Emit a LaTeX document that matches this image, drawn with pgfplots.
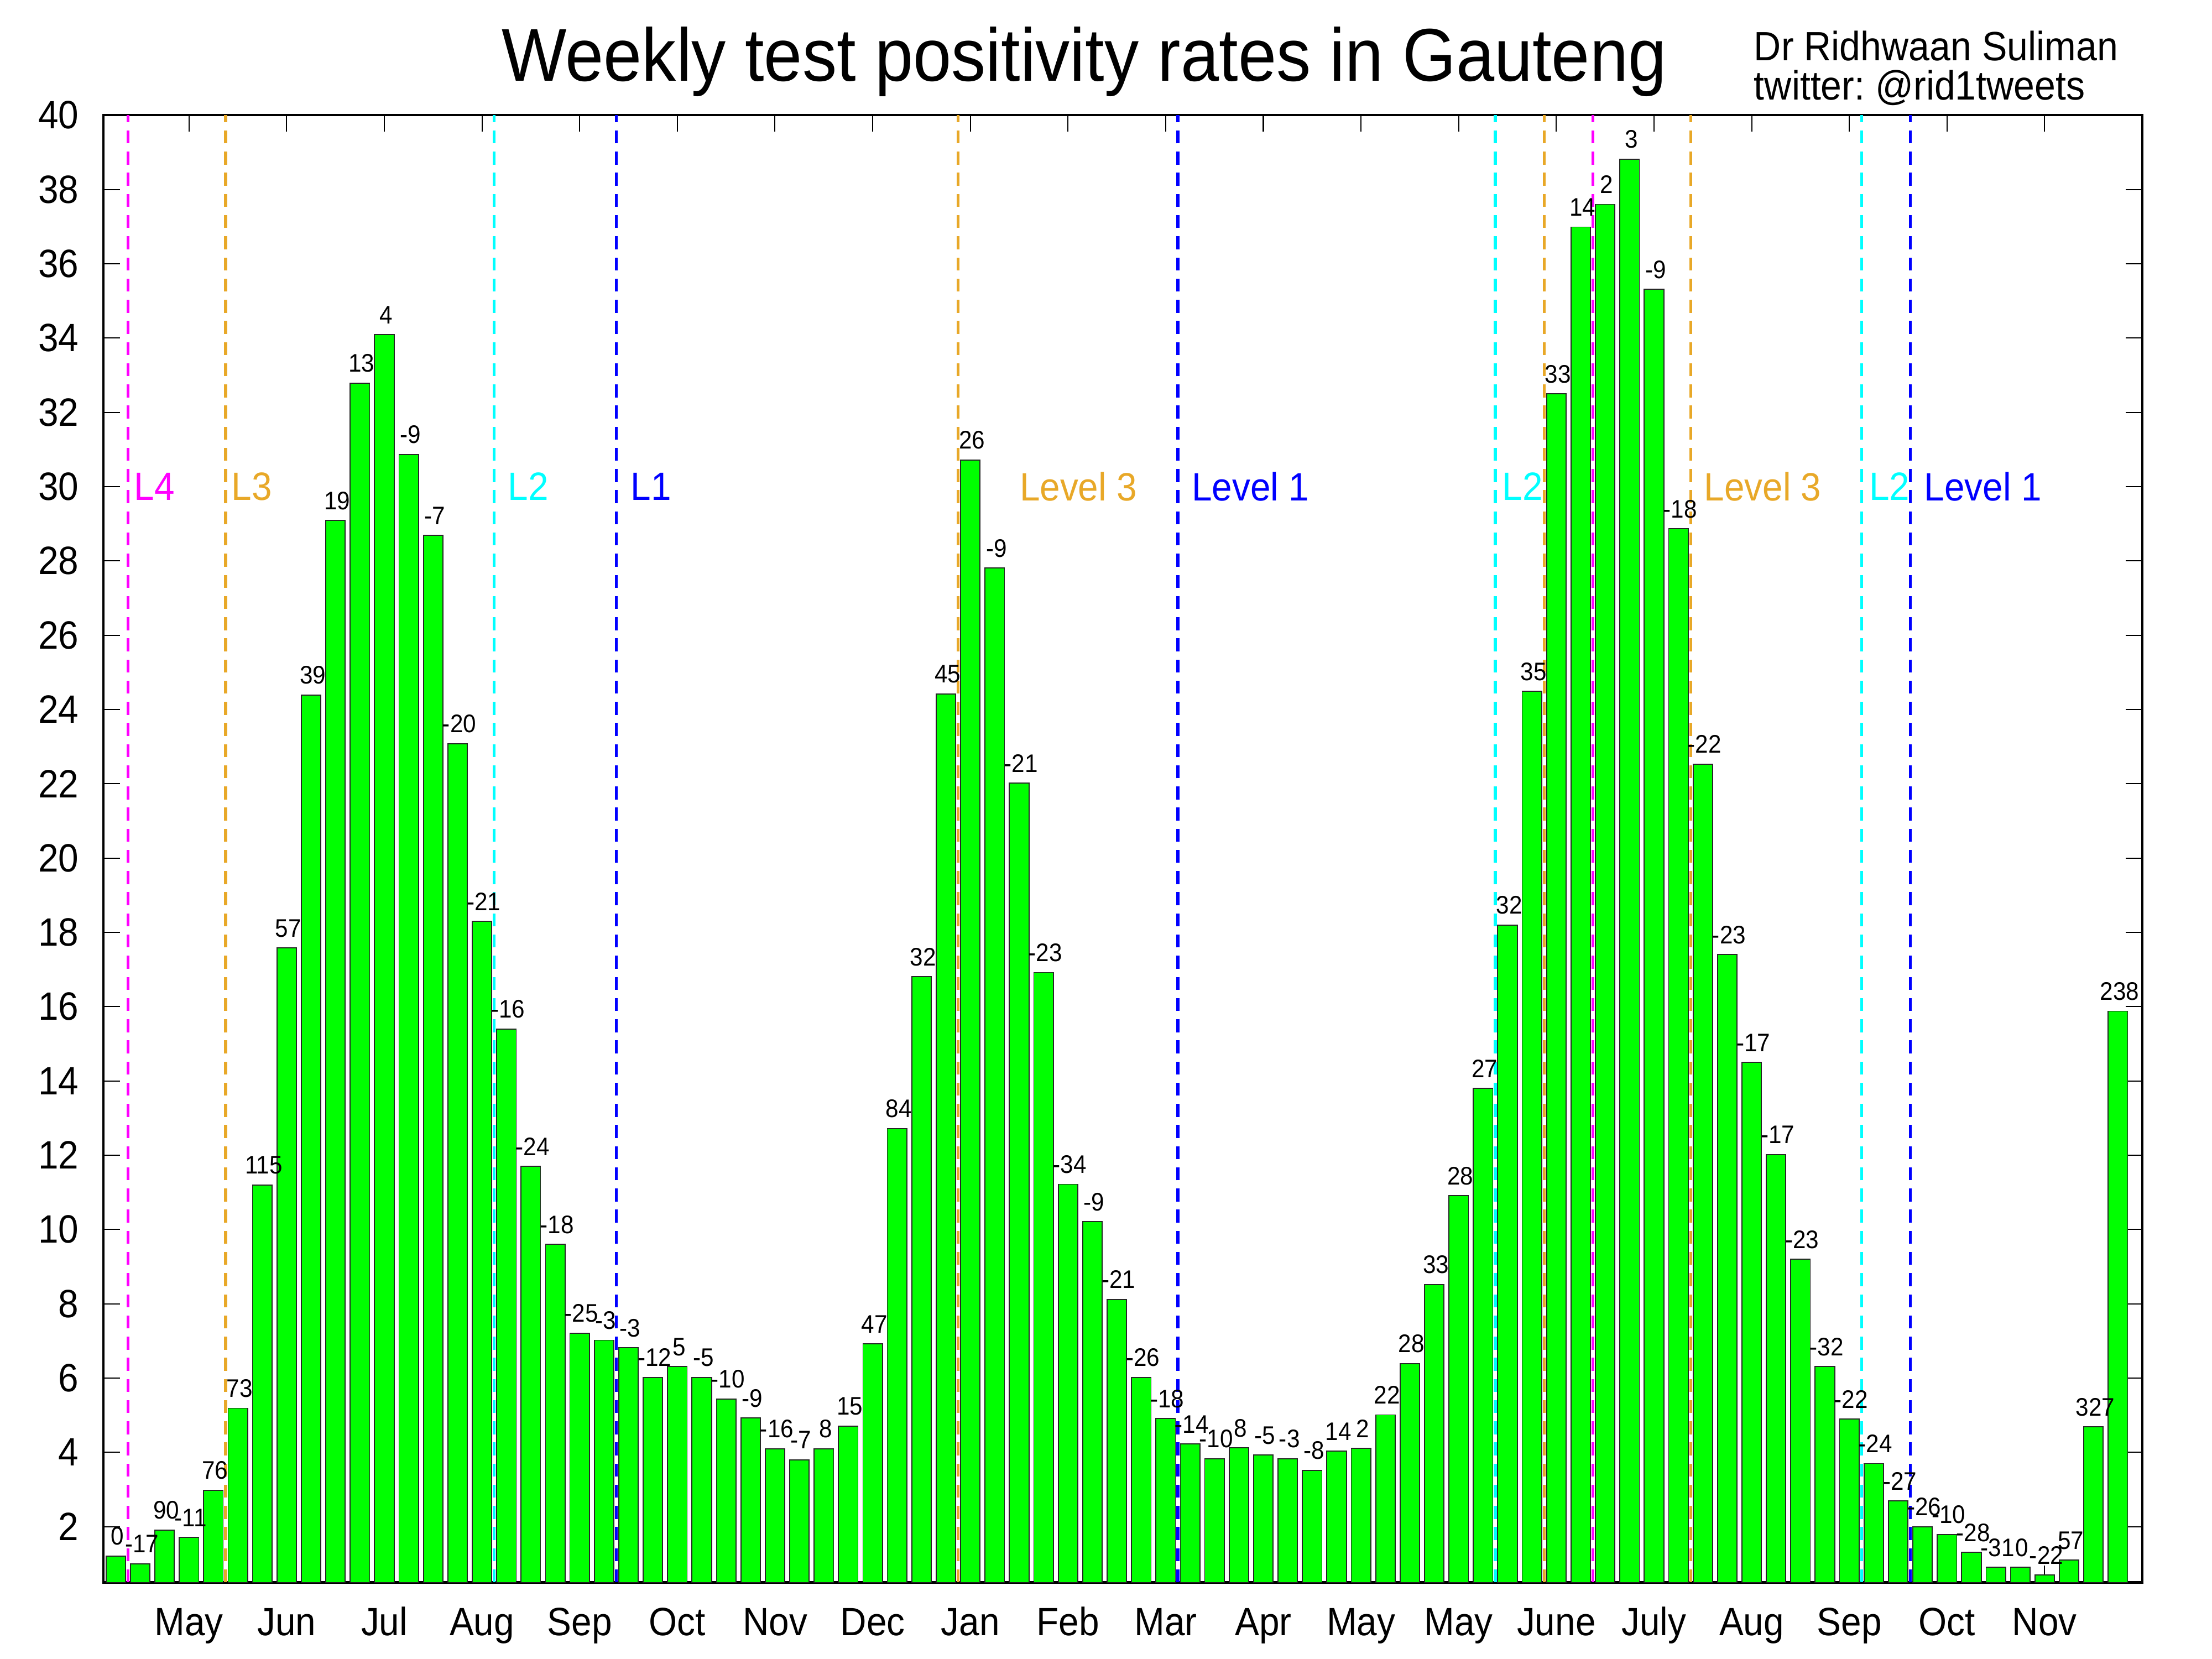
\documentclass[border=0pt]{standalone}
\usepackage{fontspec}
\setmainfont{Liberation Sans}[FakeStretch=0.92]
\usepackage{pgfplots}
\pgfplotsset{compat=1.18}
\usepackage{pgfplotstable}
\frenchspacing

\definecolor{bargreen}{RGB}{0,255,0}
\definecolor{lvmag}{RGB}{255,0,255}
\definecolor{lvorange}{RGB}{232,168,40}
\definecolor{lvcyan}{RGB}{0,255,255}
\definecolor{lvblue}{RGB}{0,0,255}

% week, positivity (%), week-on-week change label
\pgfplotstableread{
x y lbl
1 1.21 0
2 1.00 -17
3 1.91 90
4 1.71 -11
5 2.98 76
6 5.19 73
7 11.2 115
8 17.58 57
9 24.39 39
10 29.09 19
11 32.79 13
12 34.09 4
13 30.87 -9
14 28.69 -7
15 23.08 -20
16 18.30 -21
17 15.40 -16
18 11.70 -24
19 9.60 -18
20 7.21 -25
21 7.02 -3
22 6.82 -3
23 6.02 -12
24 6.31 5
25 6.02 -5
26 5.44 -10
27 4.93 -9
28 4.10 -16
29 3.80 -7
30 4.10 8
31 4.71 15
32 6.92 47
33 12.72 84
34 16.81 32
35 24.42 45
36 30.72 26
37 27.81 -9
38 22.02 -21
39 16.92 -23
40 11.22 -34
41 10.21 -9
42 8.12 -21
43 6.02 -26
44 4.91 -18
45 4.23 -14
46 3.83 -10
47 4.12 8
48 3.93 -5
49 3.83 -3
50 3.52 -8
51 4.03 14
52 4.11 2
53 5.01 22
54 6.39 28
55 8.52 33
56 10.91 28
57 13.80 27
58 18.20 32
59 24.49 35
60 32.50 33
61 36.99 14
62 37.60 2
63 38.82 3
64 35.31 -9
65 28.87 -18
66 22.53 -22
67 17.40 -23
68 14.50 -17
69 12.02 -17
70 9.20 -23
71 6.31 -32
72 4.90 -22
73 3.70 -24
74 2.69 -27
75 2.00 -26
76 1.79 -10
77 1.31 -28
78 0.91 -31
79 0.91 0
80 0.70 -22
81 1.10 57
82 4.69 327
83 15.88 238
}\positivity

\begin{document}
\begin{tikzpicture}
\useasboundingbox (-36.7pt,-27.15pt) rectangle (747.3pt,560.85pt);
\begin{axis}[
    at={(0pt,0pt)}, anchor=south west,
    scale only axis,
    width=722.6pt, height=520pt,
    xmin=0.5, xmax=84, ymin=0.5, ymax=40,
    axis line style={line width=0.8pt},
    tick style={line width=0.4pt, black},
    major tick length=5.9pt,
    tick align=inside,
    xtick pos=both, ytick pos=both,
    xticklabel pos=lower, yticklabel pos=left,
    xtick={4,8,...,80},
    xticklabels={May,Jun,Jul,Aug,Sep,Oct,Nov,Dec,Jan,Feb,Mar,Apr,May,May,June,July,Aug,Sep,Oct,Nov},
    ytick={2,4,...,40},
    /pgf/number format/assume math mode=true,
    xticklabel style={font=\fontsize{14}{14}\selectfont, anchor=base, inner sep=0pt, yshift=-18.8pt},
    yticklabel style={font=\fontsize{14}{14}\selectfont, anchor=east, inner sep=0pt, xshift=-8.6pt},
]

% weekly bars with % change labels
\addplot[ybar, bar width=0.8, fill=bargreen, draw=black!85, line width=0.35pt,
    point meta=explicit symbolic,
    nodes near coords,
    nodes near coords style={font=\fontsize{9}{9}\selectfont, anchor=base,
        inner sep=0pt, yshift=3.9pt, xshift=0.6pt, text=black}]
    table[x=x, y=y, meta=lbl] {\positivity};

% lockdown level changes
\pgfplotsset{lvline/.style={line width=1pt, dash pattern=on 4.6pt off 2.9pt, forget plot}}
\addplot[lvline, lvmag] coordinates {(1.5,0.5) (1.5,40)};
\addplot[lvline, lvorange] coordinates {(5.5,0.5) (5.5,40)};
\addplot[lvline, lvcyan] coordinates {(16.5,0.5) (16.5,40)};
\addplot[lvline, lvblue] coordinates {(21.5,0.5) (21.5,40)};
\addplot[lvline, lvorange] coordinates {(35.5,0.5) (35.5,40)};
\addplot[lvline, lvblue] coordinates {(44.5,0.5) (44.5,40)};
\addplot[lvline, lvcyan] coordinates {(57.5,0.5) (57.5,40)};
\addplot[lvline, lvorange] coordinates {(59.5,0.5) (59.5,40)};
\addplot[lvline, lvmag] coordinates {(61.5,0.5) (61.5,40)};
\addplot[lvline, lvorange] coordinates {(65.5,0.5) (65.5,40)};
\addplot[lvline, lvcyan] coordinates {(72.5,0.5) (72.5,40)};
\addplot[lvline, lvblue] coordinates {(74.5,0.5) (74.5,40)};

\tikzset{lvlabel/.style={anchor=west, inner sep=0pt, font=\fontsize{14}{14}\selectfont}}
\node[lvlabel, text=lvmag] at (axis cs:1.73,30) {L4};
\node[lvlabel, text=lvorange] at (axis cs:5.72,30) {L3};
\node[lvlabel, text=lvcyan] at (axis cs:17.04,30) {L2};
\node[lvlabel, text=lvblue] at (axis cs:22.07,30) {L1};
\node[lvlabel, text=lvorange] at (axis cs:38.0,30) {Level 3};
\node[lvlabel, text=lvblue] at (axis cs:45.05,30) {Level 1};
\node[lvlabel, text=lvcyan] at (axis cs:57.77,30) {L2};
\node[lvlabel, text=lvorange] at (axis cs:66.03,30) {Level 3};
\node[lvlabel, text=lvcyan] at (axis cs:72.79,30) {L2};
\node[lvlabel, text=lvblue] at (axis cs:75.05,30) {Level 1};
\end{axis}

\node[anchor=base, inner sep=0pt, font=\fontsize{26.5}{26.5}\selectfont]
    at (347.55pt,532.1pt) {Weekly test positivity rates in Gauteng};
\node[anchor=base west, inner sep=0pt, font=\fontsize{14.5}{14.5}\selectfont]
    at (584.8pt,539.3pt) {Dr Ridhwaan Suliman};
\node[anchor=base west, inner sep=0pt, font=\fontsize{14.5}{14.5}\selectfont]
    at (584.8pt,525.55pt) {twitter: @rid1tweets};
\end{tikzpicture}
\end{document}
